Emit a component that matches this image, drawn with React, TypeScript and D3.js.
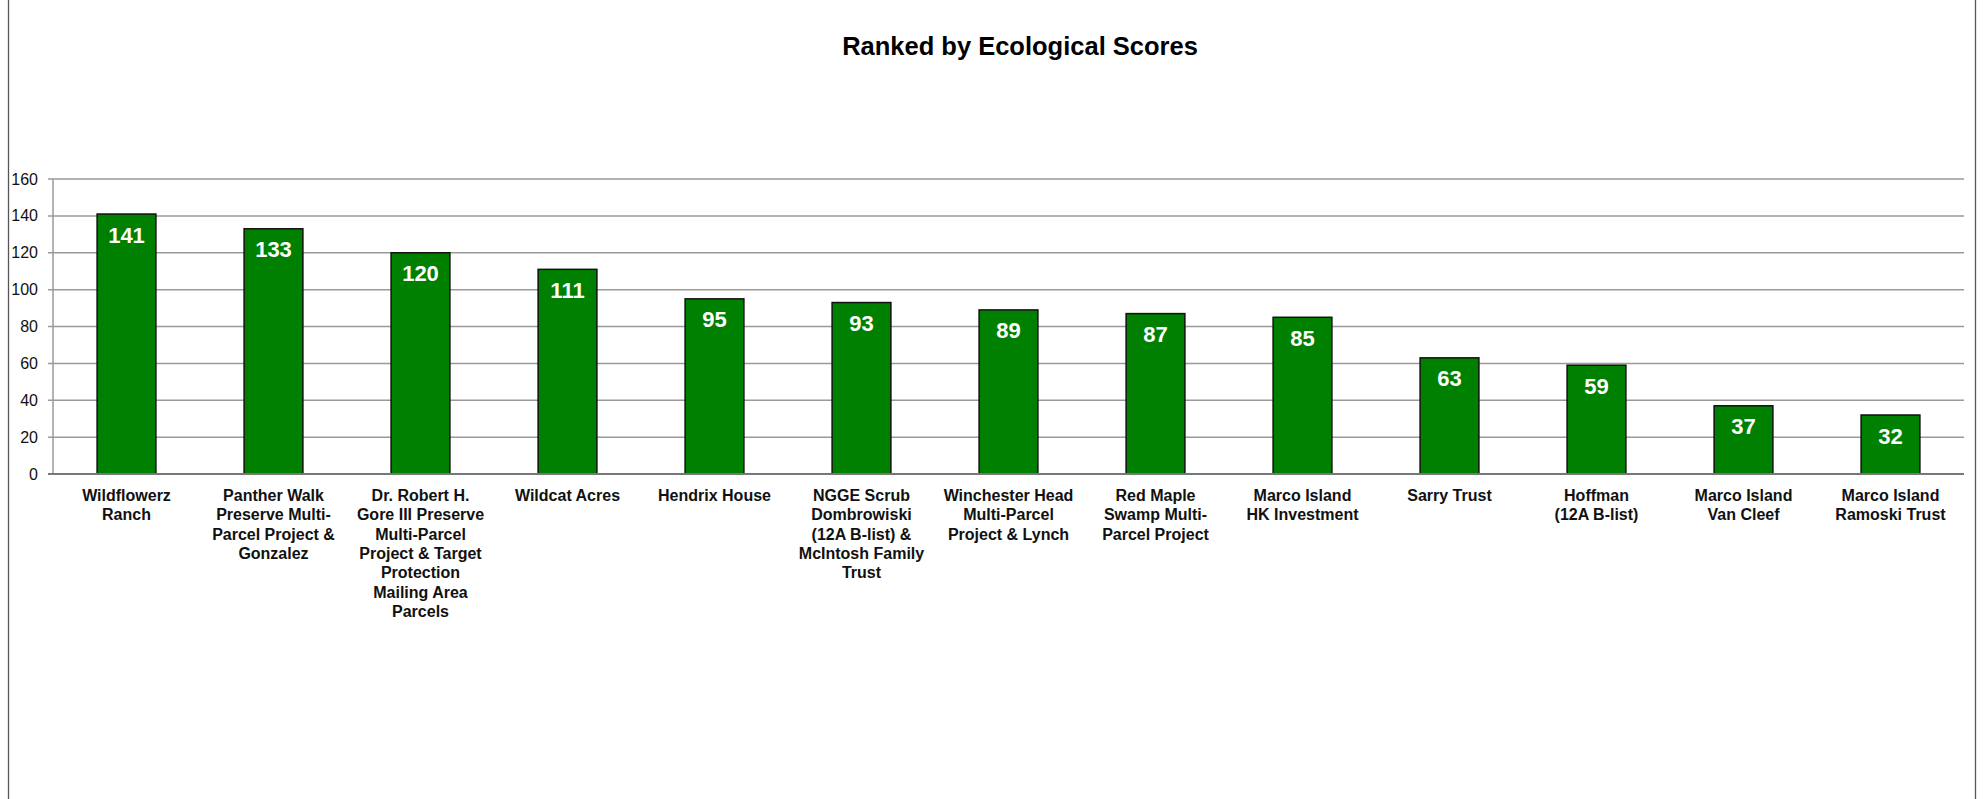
import { useEffect, useRef } from 'react';
import * as d3 from 'd3';

const title = 'Ranked by Ecological Scores';

// category labels, line breaks as in the original chart
const categories = [
  'Wildflowerz\nRanch',
  'Panther Walk\nPreserve Multi-\nParcel Project &\nGonzalez',
  'Dr. Robert H.\nGore III Preserve\nMulti-Parcel\nProject & Target\nProtection\nMailing Area\nParcels',
  'Wildcat Acres',
  'Hendrix House',
  'NGGE Scrub\nDombrowiski\n(12A B-list) &\nMcIntosh Family\nTrust',
  'Winchester Head\nMulti-Parcel\nProject & Lynch',
  'Red Maple\nSwamp Multi-\nParcel Project',
  'Marco Island\nHK Investment',
  'Sarry Trust',
  'Hoffman\n(12A B-list)',
  'Marco Island\nVan Cleef',
  'Marco Island\nRamoski Trust',
];

const scores = [141, 133, 120, 111, 95, 93, 89, 87, 85, 63, 59, 37, 32];

const yTicks = [0, 20, 40, 60, 80, 100, 120, 140, 160];

const W = 1986;
const H = 799;
const FONT = '"Liberation Sans", Arial, Helvetica, sans-serif';

export default function App() {
  const svgRef = useRef<SVGSVGElement>(null);

  useEffect(() => {
    const svg = d3.select(svgRef.current);
    svg.selectAll('*').remove();

    const left = 53;
    const right = 1964;
    const top = 179;
    const bottom = 474;

    const x = d3.scaleBand<number>()
      .domain(d3.range(categories.length))
      .range([left, right])
      .paddingInner(0.6)
      .paddingOuter(0.3);

    const y = d3.scaleLinear().domain([0, 160]).range([bottom, top]);

    svg.append('rect').attr('width', W).attr('height', H).attr('fill', 'white');

    // outer frame (only the sides are visible)
    svg.append('line').attr('x1', 8.5).attr('x2', 8.5).attr('y1', 0).attr('y2', H)
      .attr('stroke', '#555').attr('stroke-width', 1.3);
    svg.append('line').attr('x1', 1975.5).attr('x2', 1975.5).attr('y1', 0).attr('y2', H)
      .attr('stroke', '#555').attr('stroke-width', 1.3);

    svg.append('text')
      .attr('x', 1020)
      .attr('y', 55)
      .attr('text-anchor', 'middle')
      .attr('font-family', FONT)
      .attr('font-size', 25.5)
      .attr('font-weight', 'bold')
      .text(title);

    // gridlines + ticks
    const grid = svg.append('g');
    grid.selectAll('line')
      .data(yTicks.filter(t => t > 0))
      .enter()
      .append('line')
      .attr('x1', left - 5)
      .attr('x2', right)
      .attr('y1', d => y(d))
      .attr('y2', d => y(d))
      .attr('stroke', '#9a9a9a')
      .attr('stroke-width', 1.5);

    svg.append('line')
      .attr('x1', left).attr('x2', left)
      .attr('y1', top).attr('y2', bottom)
      .attr('stroke', '#9a9a9a').attr('stroke-width', 1.5);

    svg.selectAll('.ytick')
      .data(yTicks)
      .enter()
      .append('text')
      .attr('class', 'ytick')
      .attr('x', 38)
      .attr('y', d => y(d))
      .attr('dy', '0.35em')
      .attr('text-anchor', 'end')
      .attr('font-family', FONT)
      .attr('font-size', 16)
      .attr('fill', '#111')
      .text(d => d);

    // bars
    svg.selectAll('.bar')
      .data(scores)
      .enter()
      .append('rect')
      .attr('class', 'bar')
      .attr('x', (_, i) => x(i)!)
      .attr('y', d => y(d))
      .attr('width', x.bandwidth())
      .attr('height', d => y(0) - y(d))
      .attr('fill', '#008000')
      .attr('stroke', '#111')
      .attr('stroke-width', 1.5);

    // baseline
    svg.append('line')
      .attr('x1', left - 5).attr('x2', right)
      .attr('y1', y(0)).attr('y2', y(0))
      .attr('stroke', '#777').attr('stroke-width', 1.8);

    // value labels
    svg.selectAll('.val')
      .data(scores)
      .enter()
      .append('text')
      .attr('class', 'val')
      .attr('x', (_, i) => x(i)! + x.bandwidth() / 2)
      .attr('y', d => y(d) + 28.5)
      .attr('text-anchor', 'middle')
      .attr('font-family', FONT)
      .attr('font-size', 22)
      .attr('font-weight', 'bold')
      .attr('fill', 'white')
      .text(d => d);

    // category labels
    const cats = svg.selectAll('.cat')
      .data(categories)
      .enter()
      .append('text')
      .attr('class', 'cat')
      .attr('text-anchor', 'middle')
      .attr('font-family', FONT)
      .attr('font-size', 16)
      .attr('font-weight', 'bold')
      .attr('fill', '#111');

    cats.each(function (d, i) {
      const cx = x(i)! + x.bandwidth() / 2;
      d3.select(this)
        .selectAll('tspan')
        .data(d.split('\n'))
        .enter()
        .append('tspan')
        .attr('x', cx)
        .attr('y', (_, j) => 501 + j * 19.3)
        .text(t => t);
    });
  }, []);

  return (
    <svg
      ref={svgRef}
      width={W}
      height={H}
      style={{ position: 'absolute', left: 0, top: 0, display: 'block' }}
    />
  );
}
